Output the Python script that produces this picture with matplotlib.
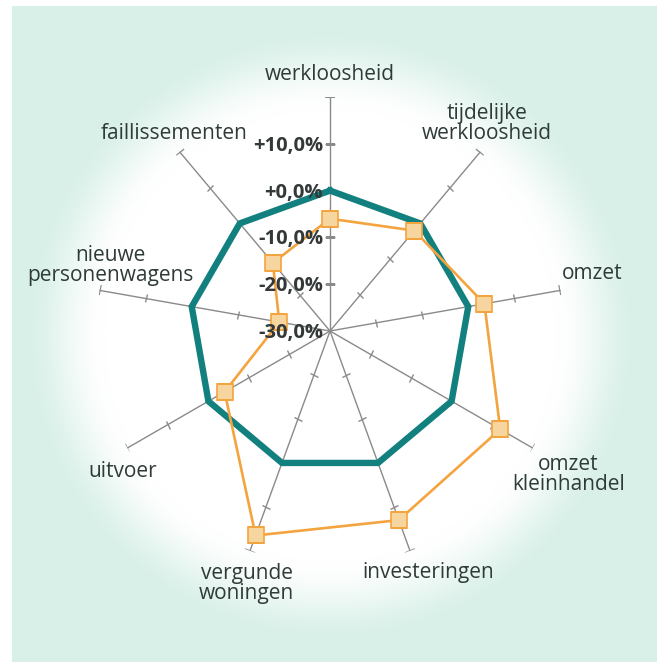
import numpy as np
import matplotlib
matplotlib.use("Agg")
import matplotlib.pyplot as plt
from matplotlib.markers import MarkerStyle
from matplotlib.transforms import Affine2D, offset_copy

plt.rcParams['font.family'] = ['Open Sans', 'DejaVu Sans']

# data
categories = ["werkloosheid", "tijdelijke\nwerkloosheid", "omzet", "omzet\nkleinhandel",
              "investeringen", "vergunde\nwoningen", "uitvoer", "nieuwe\npersonenwagens",
              "faillissementen"]
change = [-6, -2, 3.5, 12, 13, 16.5, -4, -19, -11]
reference = [0, 0, 0, 0, 0, 0, 0, 0, 0]
tick_values = [-30, -20, -10, 0, 10]
tick_labels = ["-30,0%", "-20,0%", "-10,0%", "+0,0%", "+10,0%"]
r_min, r_max = -30, 20

# label placement (angle in degrees clockwise from top, radius in data units)
label_pos = [(0, 24.8), (37, 25.6), (77.7, 27.4), (121, 29.5), (157.8, 25.7),
             (198.3, 26.8), (235.8, 23.6), (286.6, 18.9), (321.7, 23.7)]

teal = "#11807e"
orange = "#f4a43f"
orange_face = "#f7d59e"
grey = "#8a8a8a"
text_col = "#2f3b39"
mint = np.array([216, 240, 231]) / 255.0

W, H = 661, 662
fig = plt.figure(figsize=(W / 100, H / 100), dpi=100)
fig.patch.set_facecolor("white")

# background: mint panel with a white glow behind the chart
bg = fig.add_axes([0, 0, 1, 1], zorder=-5)
yy, xx = np.mgrid[0:H, 0:W]
d = np.hypot(xx - 330, yy - 335)
t = np.clip((d - 225) / 85.0, 0, 1)
t = t * t * (3 - 2 * t)
img = np.ones((H, W, 3))
img = img * (1 - t[..., None]) + mint * t[..., None]
inside = (xx >= 12) & (xx <= 656) & (yy >= 6)
img[~inside] = 1.0
bg.imshow(img, extent=(0, W, H, 0), interpolation="bilinear")
bg.set_xlim(0, W)
bg.set_ylim(H, 0)
bg.axis("off")

cx, cy, rad = 330 / W, 1 - 331 / H, 234
ax = fig.add_axes([cx - rad / W, cy - rad / H, 2 * rad / W, 2 * rad / H], projection="polar")
ax.set_theta_zero_location("N")
ax.set_theta_direction(-1)
ax.set_ylim(r_min, r_max)
ax.patch.set_alpha(0)
ax.grid(False)
ax.spines["polar"].set_visible(False)
ax.set_xticks([])
ax.set_yticks([])

n = len(categories)
theta = np.arange(n) * 2 * np.pi / n

# spokes with perpendicular ticks
for th in theta:
    ax.plot([th, th], [r_min, r_max], color=grey, lw=1.0, zorder=1)
    rot = 90 - np.degrees(th)
    m = MarkerStyle("|", transform=Affine2D().rotate_deg(rot))
    ax.plot([th] * 4, tick_values[1:], ls="none", marker=m, ms=6.5, mew=1.0,
            color=grey, zorder=1)
    ax.plot([th], [r_max], ls="none", marker=m, ms=7, mew=1.2, color=grey, zorder=1)

th_closed = np.append(theta, theta[0])
ax.plot(th_closed, reference + reference[:1], color=teal, lw=4.6, zorder=3,
        solid_joinstyle="miter")
ax.plot(th_closed, change + change[:1], color=orange, lw=1.9, zorder=4)
ax.plot(theta, change, ls="none", marker="s", ms=12, mfc=orange_face, mec=orange,
        mew=1.2, zorder=5)

# radial tick labels
lab_tr = offset_copy(ax.transData, fig=fig, x=-5, y=-1.5, units="points")
for v, s in zip(tick_values, tick_labels):
    ax.text(0, v, s, transform=lab_tr, ha="right", va="center", fontsize=14.5,
            fontweight="bold", color="#333838", zorder=6)

# category labels
for (ang, r), s in zip(label_pos, categories):
    ax.text(np.radians(ang), r, s, ha="center", va="center", fontsize=15,
            color=text_col, linespacing=0.95, zorder=6)

fig.savefig("out.png", dpi=100)
